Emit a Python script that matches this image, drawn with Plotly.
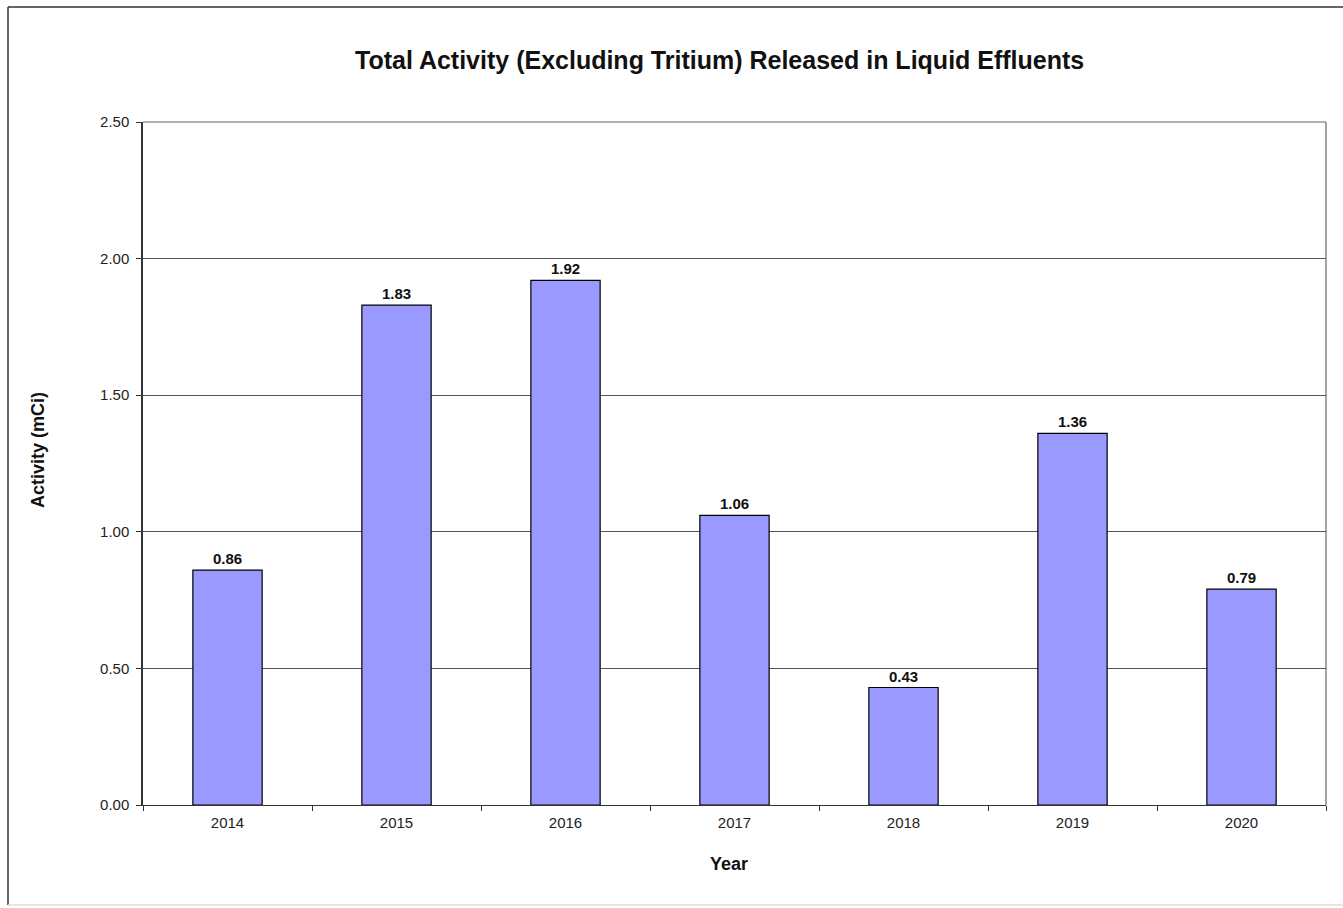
import plotly.graph_objects as go

years = ["2014", "2015", "2016", "2017", "2018", "2019", "2020"]
activity = [0.86, 1.83, 1.92, 1.06, 0.43, 1.36, 0.79]
y_ticks = [0.0, 0.5, 1.0, 1.5, 2.0, 2.5]
y_tick_labels = ["0.00", "0.50", "1.00", "1.50", "2.00", "2.50"]

W, H = 1343, 908
L, R, T, B = 143, 17, 122, 103
pw, ph = W - L - R, H - T - B


def px(x):
    return (x - L) / pw


def py(y):
    return (H - B - y) / ph


FONT = "Liberation Sans, Arial, sans-serif"

fig = go.Figure(
    go.Bar(
        x=years,
        y=activity,
        width=0.41,
        marker=dict(color="#9999FF", line=dict(color="#000000", width=1.2)),
        texttemplate="<b>%{y:.2f}</b>",
        textposition="outside",
        textfont=dict(family=FONT, size=15, color="#111111"),
        cliponaxis=False,
        hoverinfo="x+y",
    )
)

fig.update_layout(
    width=W,
    height=H,
    margin=dict(l=L, r=R, t=T, b=B),
    paper_bgcolor="white",
    plot_bgcolor="white",
    showlegend=False,
    font=dict(family=FONT, size=15, color="#222222"),
    xaxis=dict(
        type="category",
        tickson="boundaries",
        ticks="outside",
        ticklen=5,
        tickcolor="#333333",
        showline=True,
        linecolor="#333333",
        linewidth=1.2,
        showgrid=False,
        ticklabelstandoff=4,
        tickfont=dict(family=FONT, size=15, color="#222222"),
    ),
    yaxis=dict(
        range=[0, 2.5],
        tickvals=y_ticks,
        ticktext=y_tick_labels,
        ticks="outside",
        ticklen=5,
        tickcolor="#333333",
        showline=True,
        linecolor="#333333",
        linewidth=1.5,
        showgrid=True,
        gridcolor="#555555",
        gridwidth=1,
        zeroline=False,
        ticklabelstandoff=4,
        tickfont=dict(family=FONT, size=15, color="#222222"),
    ),
    annotations=[
        dict(
            text="<b>Total Activity (Excluding Tritium) Released in Liquid Effluents</b>",
            x=px(719), y=py(60), xref="paper", yref="paper",
            xanchor="center", yanchor="middle",
            showarrow=False, font=dict(family=FONT, size=25, color="#111111"),
        ),
        dict(
            text="<b>Activity (mCi)</b>",
            x=px(38), y=py(450), xref="paper", yref="paper", textangle=-90,
            xanchor="center", yanchor="middle",
            showarrow=False, font=dict(family=FONT, size=18, color="#111111"),
        ),
        dict(
            text="<b>Year</b>",
            x=px(729), y=py(864), xref="paper", yref="paper",
            xanchor="center", yanchor="middle",
            showarrow=False, font=dict(family=FONT, size=18, color="#111111"),
        ),
    ],
    shapes=[
        # right and top edges of the plotting area
        dict(type="line", xref="paper", yref="paper", x0=1, x1=1, y0=0, y1=1,
             line=dict(color="#666666", width=1.2)),
        dict(type="line", xref="paper", yref="paper", x0=0, x1=1, y0=1, y1=1,
             line=dict(color="#666666", width=1.2)),
        # outer chart frame
        dict(type="line", xref="paper", yref="paper", x0=px(8), x1=px(1343), y0=py(7), y1=py(7),
             line=dict(color="#333333", width=1.5)),
        dict(type="line", xref="paper", yref="paper", x0=px(8), x1=px(8), y0=py(7), y1=py(905),
             line=dict(color="#333333", width=1.5)),
        dict(type="line", xref="paper", yref="paper", x0=px(8), x1=px(1343), y0=py(905), y1=py(905),
             line=dict(color="#DDDDDD", width=1.5)),
    ],
)

fig.write_html("out.html")
